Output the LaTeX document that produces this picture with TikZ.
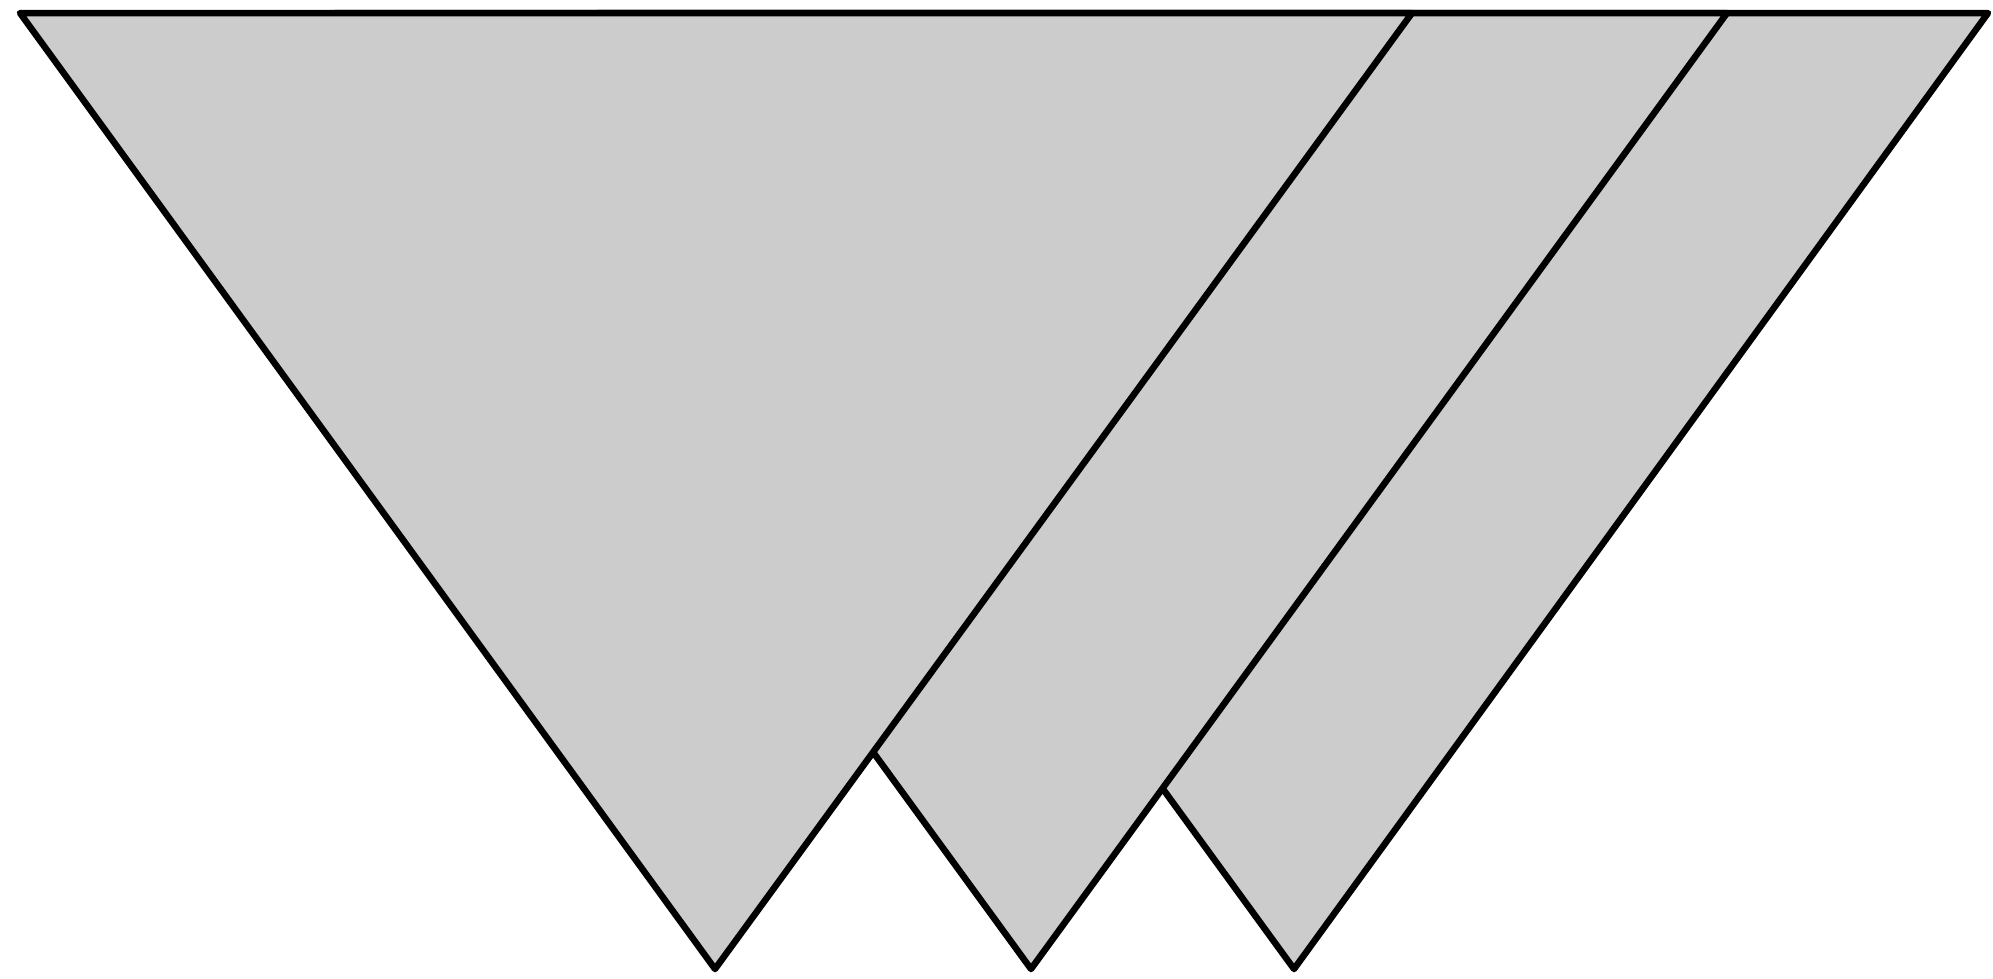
\documentclass[tikz,border=0pt]{standalone}
\begin{document}
\begin{tikzpicture}[x=1pt,y=-1pt,
  tri/.style={fill={rgb,255:red,204;green,204;blue,204},draw=black,line width=6.5pt,line join=round}]
\useasboundingbox (0,0) rectangle (1993,978);
\coordinate (c3a) at (598,13); \coordinate (c3b) at (1988,13); \coordinate (c3c) at (1294,969);
\coordinate (c2a) at (335,13); \coordinate (c2b) at (1727,13); \coordinate (c2c) at (1031,969);
\coordinate (c1a) at (20,13);  \coordinate (c1b) at (1412,13); \coordinate (c1c) at (715,969);
\draw[tri] (c3a) -- (c3b) -- (c3c) -- cycle;
\draw[tri] (c2a) -- (c2b) -- (c2c) -- cycle;
\draw[tri] (c1a) -- (c1b) -- (c1c) -- cycle;
\end{tikzpicture}
\end{document}
